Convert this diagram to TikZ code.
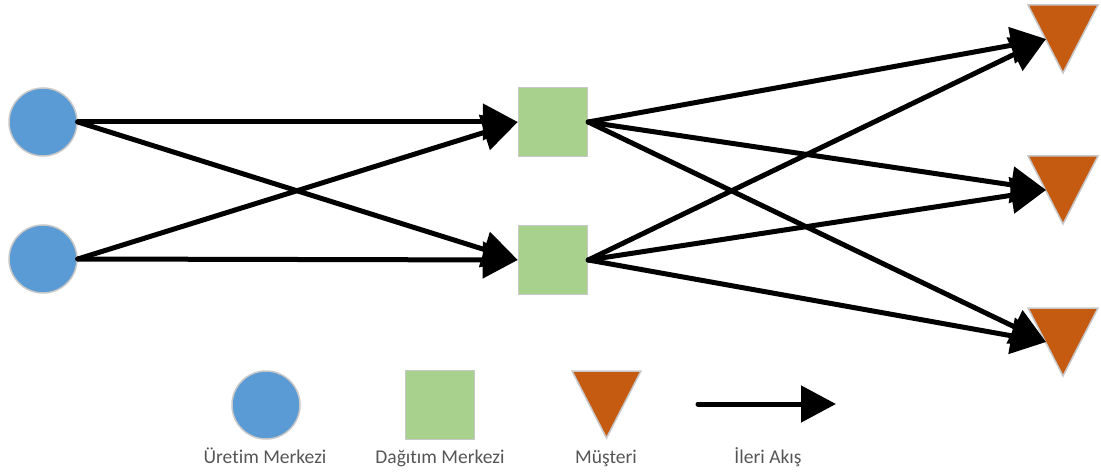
\documentclass[tikz,border=0pt]{standalone}
\usepackage{fontspec}
\setmainfont{Carlito}[Ligatures=NoCommon]
\usetikzlibrary{arrows.meta}
\definecolor{prodblue}{HTML}{5B9BD5}
\definecolor{distgreen}{HTML}{A9D18E}
\definecolor{custorange}{HTML}{C55A11}
\definecolor{edgegray}{HTML}{C8C8C8}
\definecolor{labelgray}{HTML}{555555}
\tikzset{
  prod/.style={circle, fill=prodblue, draw=edgegray, line width=1.5pt, minimum size=68pt, inner sep=0pt},
  dist/.style={rectangle, fill=distgreen, draw=edgegray, line width=1.5pt, minimum size=69pt, inner sep=0pt},
  cust/.style={fill=custorange, draw=edgegray, line width=1.5pt, line join=miter},
  flow/.style={line width=5pt, line cap=round, -{Triangle[length=35pt,width=36pt]}},
  legendtext/.style={text=labelgray, font=\fontsize{19.5}{22}\selectfont, anchor=base}
}
\begin{document}
\begin{tikzpicture}[x=1pt, y=-1pt]
\useasboundingbox (0,0) rectangle (1101,473);

% production centres
\node[prod] (c1) at (43,122) {};
\node[prod] (c2) at (43,259) {};

% distribution centres
\node[dist] (d1) at (553,122) {};
\node[dist] (d2) at (553,260) {};

% customers (downward triangles)
\draw[cust] (1028,5) -- (1098,5) -- (1063,73) -- cycle;
\draw[cust] (1028,156) -- (1098,156) -- (1063,224) -- cycle;
\draw[cust] (1028,308) -- (1098,308) -- (1063,376) -- cycle;
\coordinate (m1) at (1046,39);
\coordinate (m2) at (1046,190);
\coordinate (m3) at (1046,342);

% forward flows
\draw[flow] (c1.east) -- (d1.west);
\draw[flow] (c1.east) -- (d2.west);
\draw[flow] (c2.east) -- (d1.west);
\draw[flow] (c2.east) -- (d2.west);
\draw[flow] (d1.east) -- (m1);
\draw[flow] (d1.east) -- (m2);
\draw[flow] (d1.east) -- (m3);
\draw[flow] (d2.east) -- (m1);
\draw[flow] (d2.east) -- (m2);
\draw[flow] (d2.east) -- (m3);

% legend
\node[prod] (lc) at (266,405) {};
\node[dist] (ld) at (440,405) {};
\draw[cust] (572,371) -- (641,371) -- (606.5,438) -- cycle;
\coordinate (la1) at (698,404);
\coordinate (la2) at (836,404);
\draw[flow] (la1) -- (la2);

\node[legendtext] (t1) at (265,463) {Üretim Merkezi};
\node[legendtext] (t2) at (440,463) {Dağıtım Merkezi};
\node[legendtext] (t3) at (606,463) {Müşteri};
\node[legendtext] (t4) at (768,463) {İleri Akış};
\end{tikzpicture}
\end{document}
